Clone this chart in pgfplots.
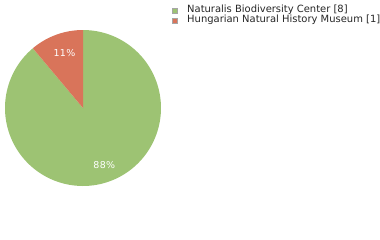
\documentclass[border=0pt]{standalone}
\usepackage{pgfplots}
\pgfplotsset{compat=1.18}
\usepackage{fontspec}
\setmainfont{DejaVu Sans}
\definecolor{pieGreen}{HTML}{9DC373}
\definecolor{pieRed}{HTML}{D9745A}
% data: counts per institution
\def\valA{8}% Naturalis Biodiversity Center
\def\valB{1}% Hungarian Natural History Museum
\begin{document}
\begin{tikzpicture}
\pgfmathsetmacro{\tot}{\valA+\valB}
\pgfmathsetmacro{\angB}{360*\valB/\tot}
\pgfmathsetmacro{\startB}{90}
\pgfmathsetmacro{\endB}{90+\angB}
\pgfmathsetmacro{\endA}{450}
\begin{axis}[
  width=380bp, height=240bp, scale only axis,
  xmin=0, xmax=380, ymin=0, ymax=240, y dir=reverse,
  hide axis, clip=false,
]
% green slice
\addplot[fill=pieGreen, draw=none, domain=\endB:\endA, samples=120]
  ({83+78*cos(x)}, {108-78*sin(x)}) -- (axis cs:83,108) -- cycle;
% red slice
\addplot[fill=pieRed, draw=none, domain=\startB:\endB, samples=30]
  ({83+78*cos(x)}, {108-78*sin(x)}) -- (axis cs:83,108) -- cycle;
% slice labels
\node[text=white, font=\fontsize{9.5}{9.5}\selectfont\addfontfeatures{LetterSpace=3}, inner sep=0pt] at (axis cs:104.3,164.7) {88\%};
\node[text=white, font=\fontsize{9.5}{9.5}\selectfont\addfontfeatures{LetterSpace=3}, inner sep=0pt] at (axis cs:64.5,53) {11\%};
% legend
\filldraw[fill=pieGreen, draw=gray!70, line width=0.5bp] (axis cs:172,8) rectangle (axis cs:177.5,13.5);
\filldraw[fill=pieRed, draw=gray!70, line width=0.5bp] (axis cs:172,18) rectangle (axis cs:177.5,23.5);
\node[anchor=base west, inner sep=0pt, font=\fontsize{10}{10}\selectfont, text=black!85] at (axis cs:187,12.5) {Naturalis Biodiversity Center [8]};
\node[anchor=base west, inner sep=0pt, font=\fontsize{10}{10}\selectfont, text=black!85] at (axis cs:187,22.5) {Hungarian Natural History Museum [1]};
\end{axis}
\pgfresetboundingbox
\path[use as bounding box] (current axis.south west) rectangle (current axis.north east);
\end{tikzpicture}
\end{document}
